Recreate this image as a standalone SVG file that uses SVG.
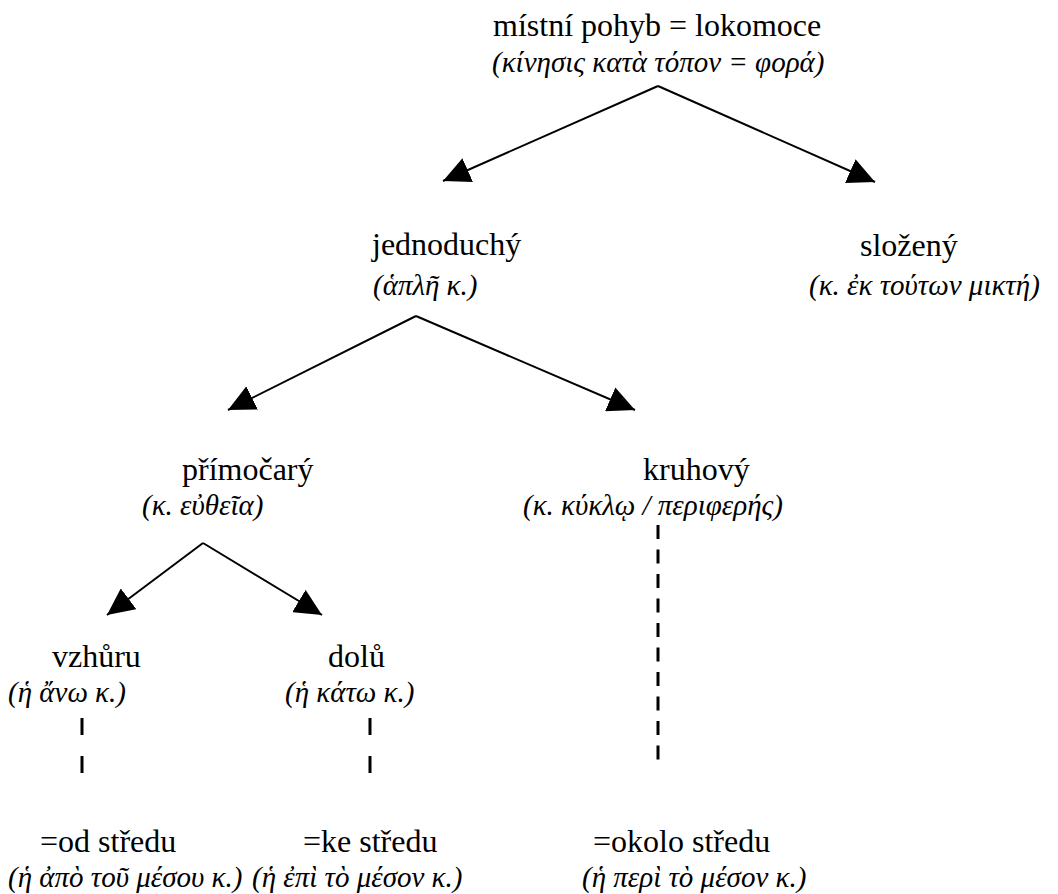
<svg xmlns="http://www.w3.org/2000/svg" width="1058" height="894" viewBox="0 0 1058 894">
  <defs>
    <marker id="arrow" viewBox="0 0 27 26" refX="27" refY="13" markerWidth="27" markerHeight="26" markerUnits="userSpaceOnUse" orient="auto">
      <path d="M0,0 L27,13 L0,26 Z" fill="#000"/>
    </marker>
    <style>
      .cz { font-family: "Liberation Serif", "Times New Roman", serif; font-size: 32px; fill: #000; }
      .gr { font-family: "Liberation Serif", "DejaVu Serif", serif; font-style: italic; font-size: 29px; fill: #000; }
      .edge { stroke: #000; stroke-width: 2; fill: none; marker-end: url(#arrow); }
      .dash { stroke: #000; stroke-width: 3; fill: none; }
    </style>
  </defs>
  <rect width="1058" height="894" fill="#fff"/>

  <!-- connectors -->
  <g id="connectors">
    <line class="edge" x1="658" y1="86" x2="443" y2="181"/>
    <line class="edge" x1="658" y1="86" x2="875" y2="182"/>
    <line class="edge" x1="416" y1="316" x2="228" y2="410"/>
    <line class="edge" x1="416" y1="316" x2="635" y2="410"/>
    <line class="edge" x1="203" y1="543" x2="107" y2="615"/>
    <line class="edge" x1="203" y1="543" x2="322" y2="615"/>
    <line class="dash" x1="82" y1="718" x2="82" y2="773" stroke-dasharray="17 21"/>
    <line class="dash" x1="370" y1="718" x2="370" y2="773" stroke-dasharray="17 21"/>
    <line class="dash" x1="658" y1="525" x2="658" y2="760" stroke-dasharray="14 10.5"/>
  </g>

  <!-- nodes -->
  <g id="n-lokomoce">
    <text class="cz" x="493" y="36">místní pohyb = lokomoce</text>
    <text class="gr" x="492" y="72">(κίνησις κατὰ τόπον = φορά)</text>
  </g>
  <g id="n-jednoduchy">
    <text class="cz" x="372" y="255">jednoduchý</text>
    <text class="gr" x="373" y="295">(ἁπλῆ κ.)</text>
  </g>
  <g id="n-slozeny">
    <text class="cz" x="860" y="256">složený</text>
    <text class="gr" x="809" y="295">(κ. ἐκ τούτων μικτή)</text>
  </g>
  <g id="n-primocary">
    <text class="cz" x="182" y="480">přímočarý</text>
    <text class="gr" x="142" y="515">(κ. εὐθεῖα)</text>
  </g>
  <g id="n-kruhovy">
    <text class="cz" x="643" y="480">kruhový</text>
    <text class="gr" x="523" y="515">(κ. κύκλῳ / περιφερής)</text>
  </g>
  <g id="n-vzhuru">
    <text class="cz" x="52" y="667">vzhůru</text>
    <text class="gr" x="8" y="702">(ἡ ἄνω κ.)</text>
  </g>
  <g id="n-dolu">
    <text class="cz" x="328" y="667">dolů</text>
    <text class="gr" x="285" y="702">(ἡ κάτω κ.)</text>
  </g>
  <g id="n-od-stredu">
    <text class="cz" x="40" y="852">=od středu</text>
    <text class="gr" x="8" y="887">(ἡ ἀπὸ τοῦ μέσου κ.)</text>
  </g>
  <g id="n-ke-stredu">
    <text class="cz" x="303" y="852">=ke středu</text>
    <text class="gr" x="252" y="887">(ἡ ἐπὶ τὸ μέσον κ.)</text>
  </g>
  <g id="n-okolo-stredu">
    <text class="cz" x="593" y="852">=okolo středu</text>
    <text class="gr" x="582" y="887">(ἡ περὶ τὸ μέσον κ.)</text>
  </g>
</svg>
